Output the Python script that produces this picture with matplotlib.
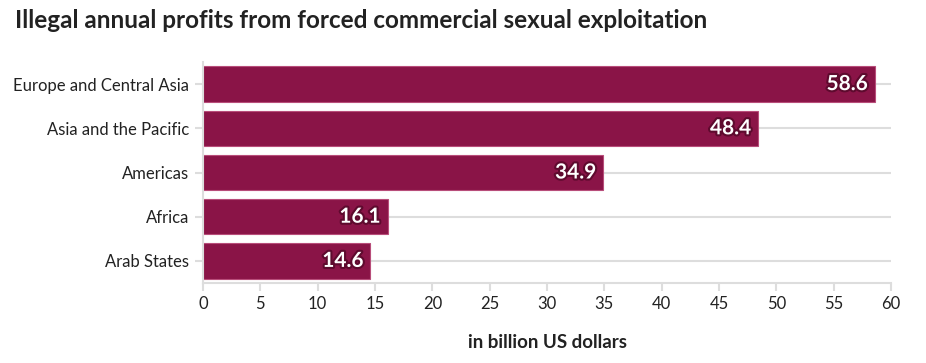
import matplotlib.pyplot as plt
import matplotlib.patheffects as pe

regions = ['Europe and Central Asia', 'Asia and the Pacific', 'Americas', 'Africa', 'Arab States']
profits = [58.6, 48.4, 34.9, 16.1, 14.6]
xticks = [0, 5, 10, 15, 20, 25, 30, 35, 40, 45, 50, 55, 60]

plt.rcParams['font.family'] = ['Lato', 'DejaVu Sans']

bar_color = '#8a1447'
grid_color = '#dddddd'
text_color = '#222222'

fig = plt.figure(figsize=(9.26, 3.63), dpi=100)
ax = fig.add_axes([203 / 926, 1 - 283 / 363, 688 / 926, 221 / 363])

pos = list(range(len(regions)))
for y in pos:
    ax.axhline(y, color=grid_color, linewidth=1.5, zorder=0)
ax.barh(pos, profits, height=0.8, color=bar_color, edgecolor='#b84d7a', linewidth=0.8, zorder=2)

for y, v in zip(pos, profits):
    ax.text(v - 0.6, y, f'{v}', ha='right', va='center', color='white', fontsize=15,
            fontweight='bold', zorder=3,
            path_effects=[pe.withStroke(linewidth=3, foreground='#5e0a2e')])

ax.set_xlim(0, 60)
ax.set_ylim(len(regions) - 0.5, -0.5)
ax.set_xticks(xticks)
ax.set_yticks(pos)
ax.set_yticklabels(regions)

for s in ['top', 'right']:
    ax.spines[s].set_visible(False)
for s in ['left', 'bottom']:
    ax.spines[s].set_color(grid_color)
    ax.spines[s].set_linewidth(1.5)

ax.tick_params(axis='both', colors=grid_color, labelcolor=text_color, labelsize=12, length=6, width=1.5)
ax.tick_params(axis='y', pad=4)

ax.set_xlabel('in billion US dollars', fontsize=13.5, fontweight='bold', color=text_color, labelpad=16)
fig.text(15 / 926, 1 - 20 / 363, 'Illegal annual profits from forced commercial sexual exploitation',
         fontsize=17.5, fontweight='bold', color=text_color, va='center', ha='left')

fig.savefig('out.png', dpi=100, facecolor='white')
plt.close()
